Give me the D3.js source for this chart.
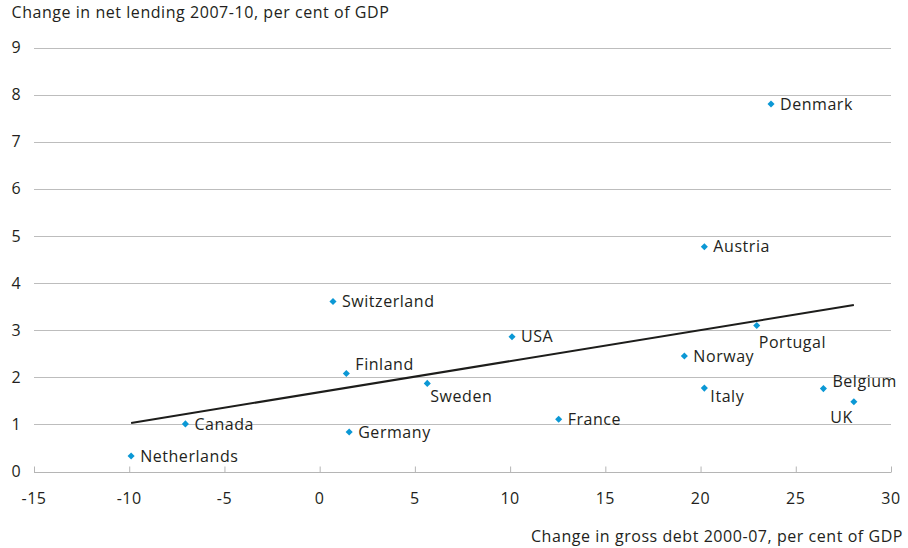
<!DOCTYPE html>
<html>
<head>
<meta charset="utf-8">
<script src="https://cdn.jsdelivr.net/npm/d3@7"></script>
<style>
  html, body { margin: 0; padding: 0; background: #fff; }
  svg { display: block; font-family: "Open Sans", "Noto Sans", sans-serif; }
  svg text { letter-spacing: 0.55px; }
</style>
</head>
<body>
<svg id="chart" width="908" height="548"></svg>
<script>
// Change in gross debt 2000-07 (x) vs change in net lending 2007-10 (y), per cent of GDP
const countries = ["Netherlands", "Canada", "Switzerland", "Finland", "Germany", "Sweden", "USA",
  "France", "Austria", "Norway", "Italy", "Portugal", "Belgium", "UK", "Denmark"];
const debtChange = [-9.9, -7.05, 0.7, 1.4, 1.55, 5.65, 10.1, 12.55, 20.2, 19.15, 20.2, 22.95, 26.45, 28.05, 23.7];
const lendingChange = [0.33, 1.01, 3.61, 2.08, 0.84, 1.87, 2.86, 1.11, 4.77, 2.45, 1.77, 3.10, 1.76, 1.48, 7.80];

const xTicks = [-15, -10, -5, 0, 5, 10, 15, 20, 25, 30];
const yTicks = [0, 1, 2, 3, 4, 5, 6, 7, 8, 9];

const yTitle = "Change in net lending 2007-10, per cent of GDP";
const xTitle = "Change in gross debt 2000-07, per cent of GDP";

// Where each country name sits relative to its marker
const labelPlacement = {
  Sweden:   { dx: 3,  dy: 13, anchor: "start" },
  Portugal: { dx: 2,  dy: 17, anchor: "start" },
  Italy:    { dx: 6,  dy: 8,  anchor: "start" },
  Belgium:  { dx: 9,  dy: -7, anchor: "start" },
  UK:       { dx: -1, dy: 16, anchor: "end" },
  Finland:  { dx: 9,  dy: -9, anchor: "start" }
};
const defaultPlacement = { dx: 9, dy: 0, anchor: "start" };

const svg = d3.select("#chart");
const textColor = "#231f20";
const fontSize = 16;

const x = d3.scaleLinear().domain([-15, 30]).range([34, 891]);
const y = d3.scaleLinear().domain([0, 9]).range([471.5, 47.5]);

// Horizontal gridlines
svg.append("g")
  .selectAll("line")
  .data(yTicks.filter(d => d > 0))
  .join("line")
  .attr("x1", x(-15)).attr("x2", x(30))
  .attr("y1", d => Math.round(y(d)) + 0.5).attr("y2", d => Math.round(y(d)) + 0.5)
  .attr("stroke", "#bdbdbd").attr("stroke-width", 1);

// Bottom axis: gray baseline with upward ticks
const xAxis = d3.axisTop(x).tickValues(xTicks).tickSize(6).tickFormat("");
const xg = svg.append("g")
  .attr("transform", `translate(0,${Math.round(y(0)) + 0.5})`)
  .call(xAxis);
xg.select(".domain").attr("stroke", "#b5b5b5").attr("d", `M${x(-15)},0H${x(30)}`);
xg.selectAll(".tick line").attr("stroke", "#b5b5b5");

// X tick labels
svg.append("g")
  .selectAll("text")
  .data(xTicks)
  .join("text")
  .attr("x", d => x(d))
  .attr("y", 498)
  .attr("dy", "0.35em")
  .attr("text-anchor", "middle")
  .attr("fill", textColor)
  .attr("font-size", fontSize)
  .text(d => d);

// Y tick labels
svg.append("g")
  .selectAll("text")
  .data(yTicks)
  .join("text")
  .attr("x", 11.5)
  .attr("y", d => y(d))
  .attr("dy", "0.35em")
  .attr("fill", textColor)
  .attr("font-size", fontSize)
  .text(d => d);

// Axis titles
svg.append("text")
  .attr("x", 11.5).attr("y", 12)
  .attr("dy", "0.35em")
  .attr("fill", textColor)
  .attr("font-size", fontSize)
  .text(yTitle);

svg.append("text")
  .attr("x", 903).attr("y", 536)
  .attr("dy", "0.35em")
  .attr("text-anchor", "end")
  .attr("fill", textColor)
  .attr("font-size", fontSize)
  .text(xTitle);

// Least-squares trend line across the observed debt range
const points = countries.map((c, i) => ({ name: c, x: debtChange[i], y: lendingChange[i] }));
const mx = d3.mean(points, d => d.x), my = d3.mean(points, d => d.y);
const slope = d3.sum(points, d => (d.x - mx) * (d.y - my)) / d3.sum(points, d => (d.x - mx) ** 2);
const intercept = my - slope * mx;
const [xMin, xMax] = d3.extent(points, d => d.x);
svg.append("path")
  .datum([xMin, xMax])
  .attr("d", d3.line().x(d => x(d)).y(d => y(intercept + slope * d)))
  .attr("fill", "none")
  .attr("stroke", "#1d1d1b")
  .attr("stroke-width", 2);

// Markers
const diamond = d3.symbol().type(d3.symbolDiamond2).size(32);
svg.append("g")
  .selectAll("path")
  .data(points)
  .join("path")
  .attr("transform", d => `translate(${x(d.x)},${y(d.y)})`)
  .attr("d", diamond)
  .attr("fill", "#0b98d5");

// Country labels
svg.append("g")
  .selectAll("text")
  .data(points)
  .join("text")
  .each(function (d) {
    const p = labelPlacement[d.name] || defaultPlacement;
    d3.select(this)
      .attr("x", x(d.x) + p.dx)
      .attr("y", y(d.y) + p.dy)
      .attr("text-anchor", p.anchor);
  })
  .attr("dy", "0.35em")
  .attr("fill", textColor)
  .attr("font-size", fontSize)
  .text(d => d.name);
</script>
</body>
</html>
